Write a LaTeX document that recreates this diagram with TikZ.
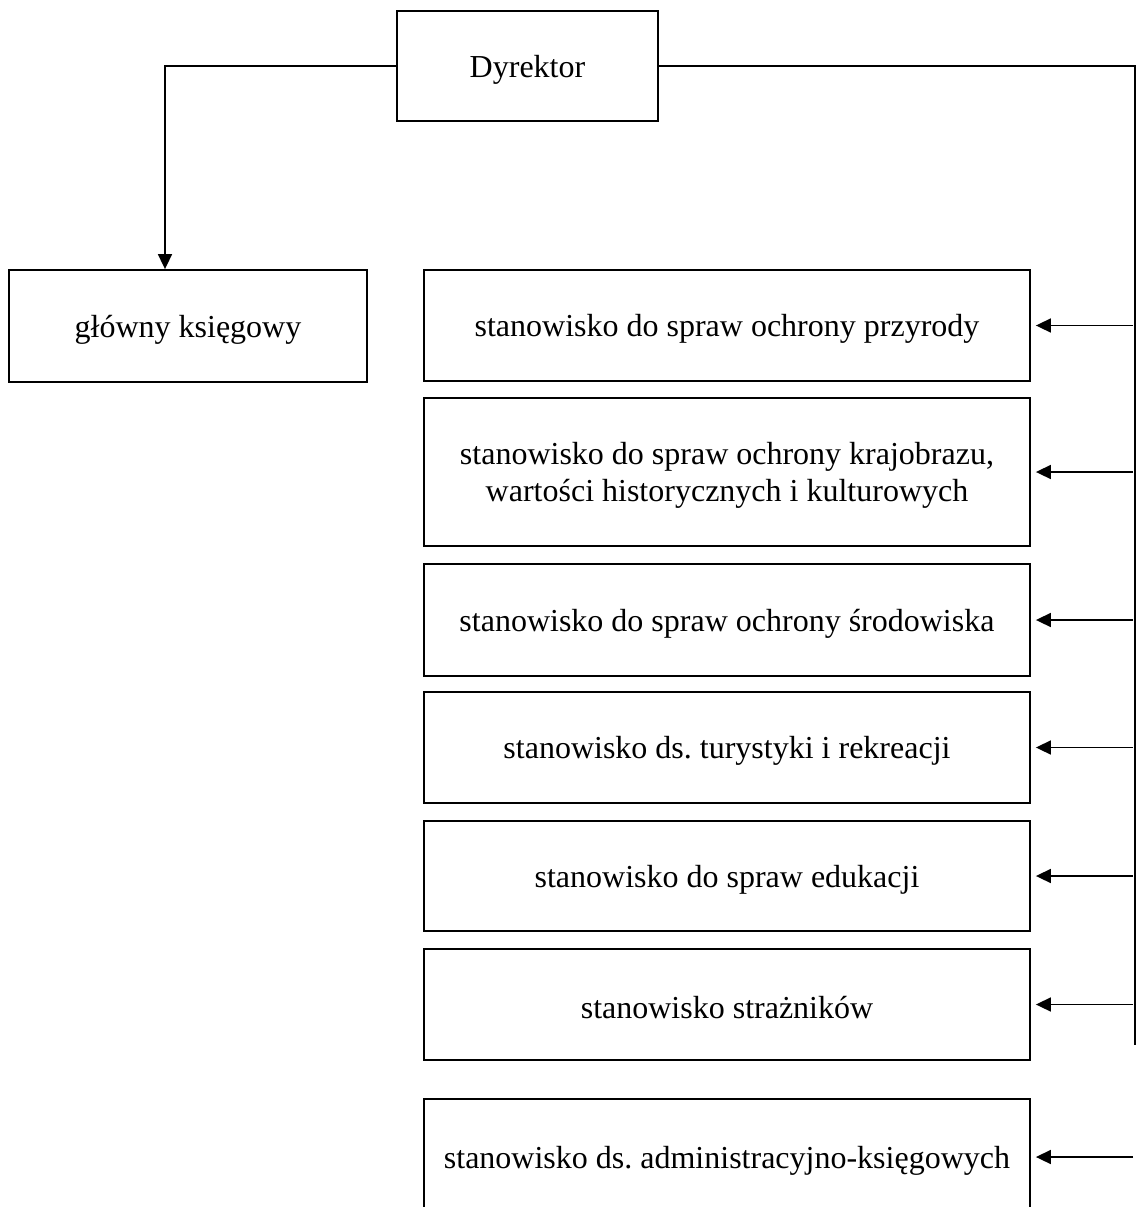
\documentclass[tikz,border=0pt]{standalone}
\usepackage{fontspec}
\setmainfont{Liberation Serif}
\usetikzlibrary{arrows.meta}
\newcommand\lowtext[1]{\raisebox{-3.5pt}[\height][\depth]{#1}}
\begin{document}
\frenchspacing
\begin{tikzpicture}[x=1pt,y=-1pt,
  box/.style={draw=black, line width=1.8pt, rectangle, inner sep=0pt, align=center,
    font=\fontsize{32}{37}\selectfont},
  link/.style={draw=black, line width=1.7pt},
  arr/.style={link, -{Triangle[length=15pt,width=14pt]}}]
\useasboundingbox (0,0) rectangle (1139,1207);
\clip (0,0) rectangle (1139,1207);
\node[box, minimum width=261pt, minimum height=110pt] (dyr) at (527.5,66) {\lowtext{Dyrektor}};
\node[box, minimum width=358pt, minimum height=112pt] (gk) at (188,326) {\lowtext{główny księgowy}};
\node[box, minimum width=606pt, minimum height=111pt] (b1) at (727,325.5) {\lowtext{stanowisko do spraw ochrony przyrody}};
\node[box, minimum width=606pt, minimum height=148pt] (b2) at (727,472) {\lowtext{\begin{tabular}{@{}c@{}}stanowisko do spraw ochrony krajobrazu,\\wartości historycznych i kulturowych\end{tabular}}};
\node[box, minimum width=606pt, minimum height=112pt] (b3) at (727,620) {\lowtext{stanowisko do spraw ochrony środowiska}};
\node[box, minimum width=606pt, minimum height=111pt] (b4) at (727,747.5) {\lowtext{stanowisko ds. turystyki i rekreacji}};
\node[box, minimum width=606pt, minimum height=110pt] (b5) at (727,876) {\lowtext{stanowisko do spraw edukacji}};
\node[box, minimum width=606pt, minimum height=111pt] (b6) at (727,1004.5) {\lowtext{stanowisko strażników}};
\node[box, minimum width=606pt, minimum height=116pt] (b7) at (727,1157) {\lowtext{stanowisko ds. administracyjno-księgowych}};
\coordinate (lx) at (165,0);
\coordinate (busend) at (1135,1045);
\coordinate (busx) at (1133,0);
\draw[arr] (dyr.west) -| (lx |- gk.north);
\draw[link] (dyr.east) -| (busend);
\foreach \b in {b1,b2,b3,b4,b5,b6,b7}{
  \draw[arr] (\b.east -| busx) -- ([xshift=5pt]\b.east);
}
\end{tikzpicture}
\end{document}
